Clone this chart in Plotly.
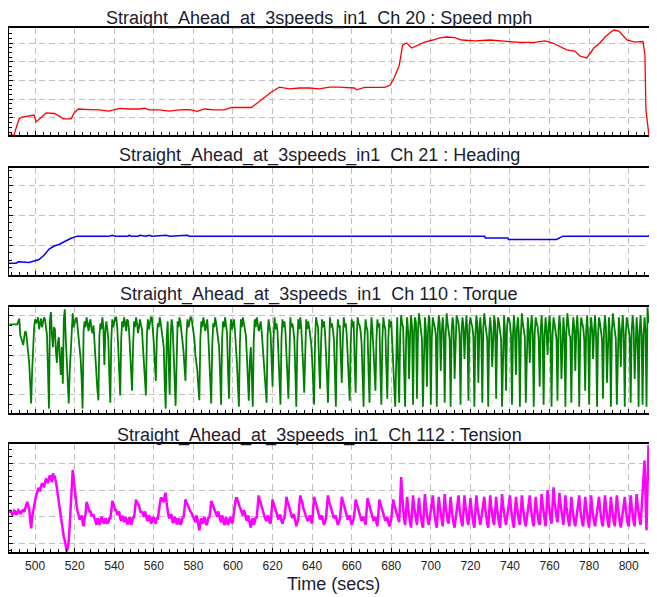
import plotly.graph_objects as go

# ---------------- data ----------------
x_tick_vals = [500, 520, 540, 560, 580, 600, 620, 640, 660, 680, 700, 720, 740, 760, 780, 800]
x_tick_text = [str(v) for v in x_tick_vals]

titles = [
    "Straight_Ahead_at_3speeds_in1 \u00a0Ch 20 : Speed mph",
    "Straight_Ahead_at_3speeds_in1 \u00a0Ch 21 : Heading",
    "Straight_Ahead_at_3speeds_in1 \u00a0Ch 110 : Torque",
    "Straight_Ahead_at_3speeds_in1 \u00a0Ch 112 : Tension",
]

speed_t = [486.3, 489.4, 490.4, 491.9, 493.4, 497.0, 499.5, 500.5, 503.0, 505.6, 509.6, 512.1,
           514.2, 518.2, 519.7, 521.8, 527.3, 532.4, 537.4, 540.0, 542.5, 547.6, 552.6, 555.2,
           557.7, 562.8, 567.8, 572.9, 577.9, 582.0, 585.5, 590.6, 595.6, 599.2, 603.2, 609.3,
           612.3, 615.9, 619.4, 623.5, 628.5, 633.6, 638.7, 643.7, 648.8, 653.8, 661.4, 662.4,
           666.5, 676.6, 679.5, 681.7, 684.0, 685.7, 687.8, 690.3, 693.3, 696.9, 700.9, 704.5,
           708.0, 712.0, 715.6, 722.2, 729.8, 737.4, 745.0, 752.5, 757.6, 761.6, 768.7, 772.8,
           775.3, 778.8, 782.4, 785.4, 788.0, 791.0, 792.5, 795.0, 799.1, 803.1, 807.2, 808.2,
           808.7, 810.2, 814.0]
speed_v = [0.9, 0.9, 4.7, 9.5, 10.5, 11.1, 11.6, 7.9, 10.0, 12.7, 12.4, 11.1,
           9.5, 9.5, 12.7, 14.8, 14.5, 14.3, 13.7, 14.3, 15.1, 14.8, 14.8, 15.3,
           14.3, 14.3, 13.7, 14.3, 14.5, 13.5, 14.8, 14.3, 14.3, 15.6, 15.6, 15.6,
           18.0, 21.2, 23.9, 26.5, 25.5, 26.0, 26.0, 25.5, 26.5, 26.5, 26.0, 25.0,
           26.3, 26.3, 27.6, 32.0, 38.0, 48.9, 50.0, 47.3, 48.9, 50.5, 51.6, 52.7,
           53.2, 52.9, 51.6, 51.1, 51.6, 51.1, 50.3, 50.3, 51.1, 50.0, 46.3, 45.7,
           43.1, 42.0, 47.3, 50.0, 53.2, 55.9, 56.9, 56.4, 51.6, 50.5, 50.8, 43.6,
           14.3, 0.9, 0.9]

heading_t = [486.3, 490.4, 491.4, 495.4, 497.0, 499.5, 502.0, 504.6, 507.1, 509.6, 512.1, 515.2,
             518.2, 521.3, 537.4, 539.0, 540.5, 547.0, 547.6, 548.5, 552.0, 553.0, 556.0, 557.7,
             559.0, 566.3, 568.0, 576.9, 578.0, 727.2, 727.5, 738.9, 739.2, 763.5, 766.7, 809.7,
             811.7, 814.0]
heading_v = [3.9, 3.9, 4.4, 4.4, 4.2, 4.7, 5.2, 6.7, 8.7, 9.7, 10.2, 11.3,
             12.3, 13.0, 13.0, 13.3, 13.0, 13.0, 13.3, 13.0, 13.0, 13.3, 13.0, 13.3,
             13.0, 13.3, 13.0, 13.3, 13.0, 13.0, 12.4, 12.4, 11.9, 11.9, 13.0, 13.0,
             13.7, 13.7]

# torque and tension: one reading at every whole second from t = 487 s,
# plus one reading half a second later
sample_start = 487
torque_whole = [
    17.7, 17.7, 17.7, 17.7, 17.7, 19.2, 14.0, 12.5, 16.0, 13.0,
    8.0, -2.2, 12.0, 19.0, 18.5, 16.5, 19.2, 18.0, 19.0, 15.0,
    -3.5, 20.8, 12.0, 16.5, 8.0, 14.5, 5.0, 2.8, 21.5, 8.0,
    -2.2, 12.0, 20.5, 18.5, 19.5, 15.0, 9.0, -3.5, 18.5, 19.5,
    16.0, 19.0, 15.5, 12.0, 5.0, -1.4, 18.0, 19.5, 7.5, 18.5,
    14.0, -2.0, 19.0, 18.0, 19.5, 12.0, -0.2, 18.5, 19.5, 16.0,
    18.5, 10.0, 1.0, 18.5, 19.5, 15.5, 19.0, 16.5, 8.0, -0.2,
    19.0, 18.0, 19.5, 13.0, 3.5, 18.0, 19.5, 16.0, 12.0, -3.5,
    18.5, 0.0, 19.0, 12.0, -2.8, 18.5, 19.5, 16.0, 11.0, 3.5,
    19.0, 18.5, 19.5, 16.5, 10.0, 6.0, -1.4, 18.5, 19.5, 16.0,
    19.0, 9.0, -2.2, 18.0, 19.5, 16.0, 12.0, -2.5, 18.5, 19.5,
    15.5, -1.0, 19.0, 18.0, 16.0, 8.0, -3.0, 19.0, 19.5, 16.0,
    10.0, -1.5, 12.0, -3.0, 19.0, 19.5, 16.0, 18.5, 12.0, 6.0,
    -2.0, 19.0, 15.5, 2.0, 19.5, 18.0, 11.0, -2.5, 19.0, 18.5,
    12.0, -1.0, 19.5, 18.0, 14.0, -3.0, 19.0, 19.5, 13.0, 0.5,
    19.0, 18.5, 15.0, 9.0, -2.5, 19.5, 17.0, 1.5, 19.0, 18.5,
    12.0, -2.0, 19.5, 18.0, 14.0, -3.0, 19.0, 17.5, 3.0, 19.5,
    18.0, 10.0, -1.5, 19.0, 18.5, 0.5, 19.5, 17.5, 13.0, -3.0,
    19.0, 16.0, -2.0, 19.5, 12.0, 1.0, 19.0, 18.0, -2.5, 19.5,
    16.5, -1.0, 19.0, 18.5, 5.0, -3.0, 19.5, -2.0, 20.0, 17.0,
    -3.0, 19.5, 4.0, 20.0, -2.5, 19.5, -1.0, 20.5, 15.0, -3.0,
    19.5, 2.0, 20.0, -2.5, 19.5, 17.0, -3.0, 20.0, 6.0, 19.5,
    -2.0, 20.5, 16.0, -3.0, 19.5, 4.0, 20.0, 18.0, -2.5, 19.5,
    9.0, 20.0, -1.5, 19.5, 17.0, -3.0, 20.0, 3.0, 19.5, -2.0,
    20.5, 15.5, -3.0, 19.5, 7.0, 20.0, -1.0, 19.5, 16.0, -3.0,
    20.0, 1.0, 19.5, 18.0, -2.5, 20.0, 5.0, 19.5, -3.0, 20.5,
    16.5, -2.0, 19.5, 8.0, 20.0, -3.0, 19.5, 17.0, 2.0, 20.0,
    -2.5, 19.5, 10.0, 20.0, -3.0, 19.5, 16.0, -1.5, 20.0, 4.0,
    19.5, -3.0, 20.5, 15.0, -2.0, 19.5, 6.0, 20.0, -3.0, 19.5,
    17.0, 1.0, 20.0, -2.5, 19.5, 9.0, 20.0, -3.0, 19.5, 16.5,
    -1.0, 20.0, 3.0, 19.5, -3.0, 20.5, 15.0, -2.5, 19.5, 7.0,
    20.0, -3.0, 19.5, 16.0, -2.0, 20.0, 4.0, 19.5, -3.0, 20.0,
    -2.5, 19.5, -3.0, 18.3, 18.3, 19.2, 19.2,
]
torque_half = [
    17.7, 17.7, 17.7, 17.7, 18.5, 15.0, 13.0, 14.5, 15.5, 10.0,
    3.0, 6.0, 17.0, 18.0, 19.5, 18.0, 17.0, 19.5, 16.5, 6.0,
    19.0, 15.0, 17.0, 11.0, 13.0, 9.0, 12.0, 19.0, 14.0, 3.0,
    6.0, 18.0, 17.0, 19.0, 17.0, 13.0, 4.0, 16.0, 17.0, 18.0,
    18.0, 16.5, 17.5, 9.0, 1.0, 15.0, 16.5, 17.0, 16.0, 16.5,
    5.0, 14.0, 17.0, 19.5, 17.0, 5.0, 14.0, 17.0, 18.0, 19.0,
    16.0, 5.0, 12.0, 17.0, 18.0, 17.0, 17.5, 12.0, 3.0, 15.0,
    16.5, 19.5, 17.0, 8.0, 14.0, 17.0, 18.0, 15.0, 3.0, 14.0,
    8.0, 15.0, 17.0, 4.0, 12.0, 17.0, 18.0, 14.0, 7.0, 15.0,
    17.0, 19.5, 17.5, 14.0, 8.0, 2.0, 14.0, 17.0, 18.0, 17.5,
    15.0, 3.0, 12.0, 17.0, 18.0, 15.0, 5.0, 14.0, 17.0, 17.5,
    6.0, 14.0, 16.5, 19.0, 13.0, 2.0, 13.0, 17.0, 18.0, 15.0,
    4.0, 8.0, 5.0, 14.0, 17.0, 18.0, 17.0, 16.0, 9.0, 3.0,
    15.0, 17.0, 9.0, 14.0, 16.5, 16.0, 4.0, 14.0, 17.0, 16.0,
    5.0, 14.0, 17.0, 16.5, 6.0, 13.0, 16.5, 17.0, 7.0, 14.0,
    16.5, 17.0, 13.0, 3.0, 14.0, 18.0, 8.0, 13.0, 17.0, 16.0,
    5.0, 14.0, 17.0, 16.5, 6.0, 13.0, 17.0, 9.0, 14.0, 17.0,
    15.0, 4.0, 13.0, 17.0, 8.0, 14.0, 18.0, 16.0, 5.0, 14.0,
    17.0, 6.0, 13.0, 16.5, 7.0, 14.0, 17.0, 6.0, 14.0, 17.5,
    7.0, 14.0, 17.0, 13.0, 2.0, 14.0, 8.0, 15.0, 18.0, 6.0,
    14.0, 16.0, 15.0, 17.0, 15.5, 18.0, 16.0, 18.5, 14.0, 15.0,
    16.5, 15.0, 17.0, 14.5, 18.0, 15.0, 16.0, 18.0, 15.5, 16.0,
    15.0, 18.0, 14.0, 16.0, 17.0, 16.5, 19.0, 15.0, 15.5, 17.0,
    16.0, 15.0, 17.5, 18.0, 14.5, 15.0, 18.0, 16.0, 15.0, 17.0,
    18.0, 14.0, 15.5, 16.0, 16.5, 18.0, 15.0, 18.0, 14.0, 15.0,
    16.0, 17.0, 19.0, 15.0, 15.0, 16.0, 16.5, 15.5, 15.0, 18.0,
    14.5, 15.0, 16.0, 17.0, 15.0, 15.5, 18.0, 14.0, 16.0, 15.0,
    15.0, 16.0, 17.0, 15.5, 15.0, 18.0, 14.0, 16.0, 16.5, 15.0,
    15.5, 16.0, 18.0, 14.5, 15.0, 17.0, 16.0, 15.0, 15.0, 18.0,
    14.0, 16.0, 15.0, 15.0, 16.5, 16.0, 15.0, 15.0, 18.0, 14.0,
    16.0, 17.0, 15.0, 15.5, 16.0, 18.0, 14.0, 15.0, 16.5, 16.0,
    15.0, 15.0, 18.0, 14.5, 16.0, 17.0, 15.0, 15.0, 16.0, 15.0,
    15.0, 16.0, 22.0, 18.3, 18.8, 19.2, 19.2,
]

tension_whole = [
    11.5, 11.8, 11.0, 12.0, 11.3, 12.2, 11.6, 12.8, 13.5, 15.6,
    13.0, 5.7, 12.0, 17.5, 19.0, 20.6, 21.5, 22.0, 23.0, 23.8,
    24.5, 24.2, 26.2, 25.0, 21.0, 15.1, 9.0, 4.0, 1.2, -2.9,
    1.0, 14.0, 27.5, 20.0, 14.0, 10.5, 9.5, 8.0, 9.5, 15.6,
    13.5, 12.0, 10.5, 9.5, 7.0, 9.0, 8.0, 9.5, 7.5, 9.0,
    8.0, 9.5, 16.0, 14.0, 12.5, 11.0, 9.5, 10.5, 8.0, 9.5,
    7.5, 9.5, 8.0, 9.5, 16.5, 15.0, 13.0, 12.0, 10.0, 11.0,
    8.5, 10.0, 8.0, 9.5, 7.5, 9.0, 15.5, 17.0, 15.5, 19.0,
    12.5, 9.5, 10.5, 8.0, 9.5, 7.5, 9.0, 8.0, 9.5, 16.5,
    14.5, 13.0, 11.5, 10.0, 8.0, 9.5, 5.0, 9.5, 8.0, 9.0,
    7.5, 9.5, 16.0, 14.0, 12.5, 10.0, 11.0, 8.0, 9.5, 7.5,
    9.0, 8.0, 9.5, 8.5, 15.5, 17.0, 14.5, 12.5, 10.5, 11.5,
    8.5, 9.5, 6.0, 9.5, 8.0, 9.5, 18.0, 15.0, 12.5, 10.0,
    8.5, 10.0, 7.5, 16.5, 14.0, 11.5, 9.0, 10.5, 7.5, 9.5,
    17.5, 15.0, 12.0, 9.5, 10.5, 6.5, 9.0, 18.0, 15.5, 12.0,
    10.0, 8.5, 10.5, 7.5, 17.5, 15.0, 12.0, 9.0, 10.5, 7.0,
    9.5, 18.0, 14.5, 12.0, 9.5, 10.5, 7.0, 9.0, 17.5, 14.5,
    11.5, 9.0, 10.5, 7.0, 9.5, 16.5, 14.0, 11.0, 8.5, 10.0,
    7.0, 17.0, 14.0, 11.0, 8.5, 10.0, 6.5, 16.5, 13.5, 11.0,
    8.5, 10.0, 6.5, 9.0, 16.5, 13.0, 10.5, 8.0, 24.9, 13.0,
    7.0, 17.5, 10.0, 6.0, 18.0, 11.0, 7.0, 17.0, 9.5, 6.0,
    18.5, 10.5, 7.0, 12.0, 18.0, 9.0, 6.0, 17.5, 11.0, 6.5,
    18.5, 10.0, 7.5, 17.5, 9.0, 6.0, 12.0, 18.0, 9.5, 6.5,
    18.0, 10.5, 7.0, 17.0, 9.0, 6.0, 18.0, 11.0, 7.0, 12.5,
    17.5, 9.0, 6.0, 18.0, 10.5, 7.0, 17.5, 9.5, 6.0, 18.5,
    11.0, 7.0, 12.0, 18.0, 9.5, 6.0, 17.5, 10.0, 7.0, 18.0,
    9.5, 6.5, 12.0, 18.0, 10.0, 6.5, 17.5, 9.5, 7.0, 18.5,
    11.0, 6.5, 20.0, 11.0, 7.5, 21.0, 12.0, 8.0, 19.0, 11.5,
    7.0, 18.0, 10.5, 6.5, 17.5, 10.0, 6.5, 12.0, 18.0, 9.5,
    6.5, 17.5, 10.0, 6.0, 18.0, 9.5, 6.5, 12.0, 17.5, 9.5,
    6.5, 18.0, 10.0, 6.0, 17.5, 9.5, 6.5, 18.0, 10.0, 6.0,
    12.0, 17.5, 9.0, 6.5, 18.0, 10.0, 6.5, 18.5, 11.0, 7.0,
    19.0, 31.0, 5.0, 36.8, 20.0, 10.5, 10.0,
]
tension_half = [
    12.5, 10.8, 12.3, 10.8, 12.5, 11.0, 12.6, 11.8, 14.5, 14.0,
    9.0, 10.0, 15.5, 18.0, 20.5, 19.5, 22.5, 21.0, 24.0, 22.5,
    25.5, 23.0, 25.0, 23.5, 18.0, 12.0, 6.5, 2.5, -1.0, -1.5,
    7.0, 22.0, 24.0, 16.5, 12.0, 9.0, 10.5, 6.5, 11.0, 14.5,
    12.0, 10.5, 11.0, 7.5, 9.5, 7.0, 10.0, 8.0, 9.5, 7.5,
    9.5, 12.0, 15.0, 12.5, 11.0, 12.0, 8.5, 9.0, 10.0, 7.5,
    9.5, 7.0, 10.0, 13.0, 15.0, 14.0, 11.5, 10.5, 12.0, 9.0,
    10.5, 7.5, 10.0, 8.0, 10.0, 12.0, 17.0, 16.0, 18.0, 15.0,
    10.0, 11.0, 8.0, 10.0, 7.5, 9.5, 7.0, 10.0, 13.0, 15.5,
    13.5, 12.0, 10.5, 8.5, 10.5, 7.0, 8.0, 7.5, 10.0, 7.0,
    10.0, 12.0, 15.0, 13.0, 11.0, 12.0, 9.0, 10.5, 7.0, 10.0,
    7.0, 10.0, 7.5, 12.0, 17.0, 15.5, 13.5, 11.0, 12.5, 9.5,
    10.5, 7.5, 8.5, 7.0, 10.0, 14.0, 16.5, 13.5, 11.0, 9.0,
    10.5, 8.0, 12.0, 15.0, 12.5, 10.0, 10.5, 8.5, 9.0, 13.0,
    16.0, 13.5, 10.5, 11.0, 8.5, 8.0, 14.0, 16.5, 13.5, 10.5,
    9.0, 10.0, 8.5, 12.5, 16.0, 13.5, 10.5, 10.0, 8.5, 8.0,
    14.0, 16.0, 13.0, 10.5, 10.0, 8.5, 8.0, 13.0, 16.0, 13.0,
    10.0, 10.0, 8.5, 8.0, 12.5, 15.0, 12.5, 9.5, 9.5, 8.5,
    12.0, 15.5, 12.5, 9.5, 9.5, 8.0, 11.5, 15.0, 12.0, 9.5,
    9.5, 8.0, 7.5, 13.0, 14.5, 11.5, 9.0, 16.0, 18.0, 9.0,
    12.0, 13.5, 8.0, 12.0, 14.0, 9.0, 12.0, 13.0, 7.5, 12.0,
    14.0, 8.5, 9.5, 15.0, 13.0, 7.5, 12.0, 14.0, 8.5, 12.0,
    14.0, 8.5, 12.0, 13.0, 7.5, 9.0, 15.0, 13.0, 8.0, 12.0,
    14.0, 8.5, 12.0, 13.0, 7.5, 12.0, 14.0, 9.0, 9.5, 15.0,
    13.0, 7.5, 12.0, 14.0, 8.5, 12.0, 13.0, 7.5, 12.0, 14.5,
    9.0, 9.5, 15.0, 13.0, 7.5, 12.0, 14.0, 8.5, 12.0, 14.0,
    8.0, 9.5, 15.0, 13.5, 8.0, 12.0, 13.5, 8.0, 12.0, 14.5,
    9.0, 13.0, 15.5, 9.0, 14.0, 16.0, 10.0, 13.0, 15.0, 9.5,
    12.0, 14.0, 8.5, 12.0, 13.5, 8.0, 9.5, 15.0, 13.0, 7.5,
    12.0, 14.0, 8.0, 12.0, 13.5, 8.0, 9.5, 15.0, 13.0, 7.5,
    12.0, 14.0, 8.0, 12.0, 13.5, 8.0, 12.0, 14.0, 8.0, 9.5,
    15.0, 13.0, 7.5, 12.0, 14.0, 8.0, 12.0, 14.5, 9.0, 12.0,
    25.0, 18.0, 22.0, 28.0, 14.0, 10.0, 10.0,
]


def interleave(whole, half):
    ts, vs = [], []
    for i, (a, b) in enumerate(zip(whole, half)):
        ts += [sample_start + i, sample_start + i + 0.5]
        vs += [a, b]
    return ts, vs


torque_t, torque_v = interleave(torque_whole, torque_half)
tension_t, tension_v = interleave(tension_whole, tension_half)

# ---------------- figure ----------------
# the page body has an 8px margin, so the figure is laid out in page pixels
OFF = 8
W, H = 657 - OFF, 597 - OFF
PLOT_L, PLOT_R, PLOT_T, PLOT_B = 9, 657, 28, 552   # page pixels
ML, MR, MT, MB = PLOT_L - OFF, 0, PLOT_T - OFF, (597 - PLOT_B)
PH = PLOT_B - PLOT_T


def py(pix):
    return (PLOT_B - pix) / PH


def px(pix):
    return (pix - PLOT_L) / (PLOT_R - PLOT_L)


panel_px = [(28, 135), (168, 275), (307, 413), (444, 552)]
y_ranges = [[0.93, 58.0], [0.0, 35.8], [-4.6, 22.1], [-3.1, 37.2]]
colors = ["#ff0000", "#0000ff", "#008000", "#ff00ff"]
widths = [1.3, 1.5, 1.8, 2.5]
series = [(speed_t, speed_v), (heading_t, heading_v), (torque_t, torque_v), (tension_t, tension_v)]
title_mid_px = [18.7, 155.7, 294.7, 435.2]

fig = go.Figure()
grid_col = "#c0c0c0"
font_fam = "Liberation Sans, Arial, sans-serif"
for i in range(4):
    n = "" if i == 0 else str(i + 1)
    t, v = series[i]
    fig.add_trace(go.Scatter(x=t, y=v, mode="lines", xaxis="x" + n, yaxis="y" + n,
                             line=dict(color=colors[i], width=widths[i]), showlegend=False,
                             hoverinfo="skip"))
    top, bot = panel_px[i]
    fig.layout["xaxis" + n] = dict(
        domain=[0, 1], range=[486.8, 814.3], anchor="y" + n,
        showline=True, linecolor="black", linewidth=1.5, mirror=True,
        showgrid=True, gridcolor=grid_col, griddash="6px,4px", gridwidth=1,
        tickmode="array", tickvals=x_tick_vals, ticktext=x_tick_text,
        ticks="inside", ticklen=4, tickcolor="black", tickwidth=1,
        minor=dict(dtick=4, tick0=0, ticks="inside", ticklen=3, tickcolor="black", showgrid=False),
        showticklabels=(i == 3), ticklabelstandoff=2,
        tickfont=dict(family=font_fam, size=12, color="#222222"),
        zeroline=False, fixedrange=True,
    )
    fig.layout["yaxis" + n] = dict(
        domain=[py(bot), py(top)], range=y_ranges[i], anchor="x" + n,
        showline=True, linecolor="black", linewidth=1.5, mirror=False,
        showgrid=True, gridcolor=grid_col, griddash="6px,4px", gridwidth=1,
        dtick=10, tick0=0, ticks="inside", ticklen=4, tickcolor="black",
        minor=dict(dtick=2.5, tick0=0, ticks="inside", ticklen=3, tickcolor="black", showgrid=False),
        showticklabels=False, zeroline=False, fixedrange=True,
    )
    fig.add_annotation(text=titles[i], xref="paper", yref="paper", x=px(319),
                       y=py(title_mid_px[i]), xanchor="center", yanchor="middle", showarrow=False,
                       font=dict(family=font_fam, size=18, color="#1c1c30"))

fig.add_annotation(text="Time (secs)", xref="paper", yref="paper", x=px(333),
                   y=py(584), xanchor="center", yanchor="middle", showarrow=False,
                   font=dict(family=font_fam, size=18, color="#1c1c30"))

fig.update_layout(width=W, height=H, autosize=False,
                  margin=dict(l=ML, r=MR, t=MT, b=MB, pad=0),
                  paper_bgcolor="white", plot_bgcolor="white")

fig.write_html("out.html")
